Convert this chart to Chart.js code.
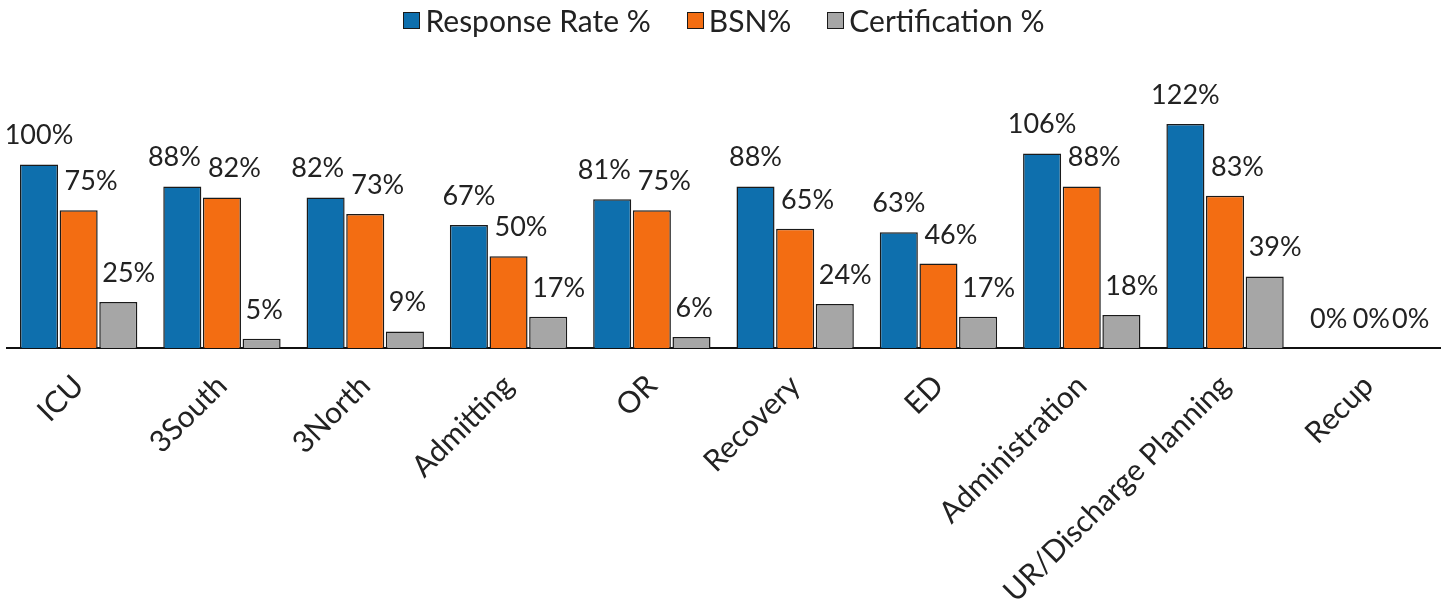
<!DOCTYPE html>
<html>
<head>
<meta charset="utf-8">
<script src="https://cdn.jsdelivr.net/npm/chart.js@4"></script>
<style>
  html, body { margin: 0; padding: 0; background: #ffffff; }
  #wrap { width: 1448px; height: 608px; position: relative; }
  #legend {
    position: absolute; top: 2px; left: 0; width: 1448px;
    display: flex; justify-content: center; gap: 36px;
    font-family: Lato, "Open Sans", sans-serif; font-size: 30px; color: #222222;
  }
  #legend span.item { display: flex; align-items: center; }
  #legend span.box {
    display: inline-block; width: 15px; height: 15px; margin-right: 5px;
    border: 1.5px solid #1a1a1a;
  }
</style>
</head>
<body>
<div id="wrap">
  <canvas id="unitChart"></canvas>
  <div id="legend"></div>
</div>
<script>
// categories and series
const units = ['ICU', '3South', '3North', 'Admitting', 'OR', 'Recovery', 'ED', 'Administration', 'UR/Discharge Planning', 'Recup'];
const responseRate = [100, 88, 82, 67, 81, 88, 63, 106, 122, 0];
const bsnPct = [75, 82, 73, 50, 75, 65, 46, 88, 83, 0];
const certPct = [25, 5, 9, 17, 6, 24, 17, 18, 39, 0];

const FONT = 'Lato, "Open Sans", sans-serif';

// value labels: blue centred, orange and grey start near the bar's left edge,
// blue gets nudged left when it would run into the orange one
const valueLabels = {
    id: 'valueLabels',
    afterDatasetsDraw(chart) {
        const ctx = chart.ctx;
        ctx.save();
        ctx.font = '27px ' + FONT;
        ctx.fillStyle = '#222222';
        ctx.textBaseline = 'alphabetic';
        ctx.textAlign = 'left';
        const lift = 20;
        const textH = 20;
        const metas = chart.data.datasets.map((ds, i) => chart.getDatasetMeta(i));

        chart.data.labels.forEach((lab, j) => {
            const boxes = metas.map((meta, i) => {
                const bar = meta.data[j];
                const txt = chart.data.datasets[i].data[j] + '%';
                const w = ctx.measureText(txt).width;
                const half = bar.width / 2;
                let left;
                if (i === 0) left = bar.x - w / 2;
                else if (i === 1) left = bar.x - half + 5;
                else left = bar.x - half + 3;
                return { txt, left, w, y: bar.y - lift };
            });
            const a = boxes[0], b = boxes[1], c = boxes[2];
            if (Math.abs(a.y - b.y) < textH && a.left + a.w > b.left - 7) {
                a.left = b.left - 7 - a.w;
            }
            // keep the orange label clear of the grey one when they sit level
            if (Math.abs(b.y - c.y) < textH && b.left + b.w > c.left - 2) {
                b.left = c.left - 2 - b.w;
            }
            boxes.forEach(bx => ctx.fillText(bx.txt, bx.left, bx.y));
        });
        ctx.restore();
    }
};

const ctx = document.getElementById('unitChart').getContext('2d');
const chart = new Chart(ctx, {
    type: 'bar',
    data: {
        labels: units,
        datasets: [
            {
                label: 'Response Rate %',
                data: responseRate,
                backgroundColor: '#0e6fad',
                borderColor: '#1a1a1a',
                borderWidth: 1.5
            },
            {
                label: 'BSN%',
                data: bsnPct,
                backgroundColor: '#f36d12',
                borderColor: '#1a1a1a',
                borderWidth: 1.5
            },
            {
                label: 'Certification %',
                data: certPct,
                backgroundColor: '#a6a6a6',
                borderColor: '#1a1a1a',
                borderWidth: 1.5
            }
        ]
    },
    options: {
        responsive: true,
        maintainAspectRatio: false,
        animation: false,
        datasets: {
            bar: {
                categoryPercentage: 0.83,
                barPercentage: 0.96
            }
        },
        layout: {
            padding: { left: 7, right: 8, top: 91, bottom: 3 }
        },
        plugins: {
            legend: { display: false },
            tooltip: { enabled: false }
        },
        scales: {
            x: {
                grid: { display: false, drawTicks: false },
                border: { display: true, color: '#111111', width: 2 },
                ticks: {
                    minRotation: 45,
                    maxRotation: 45,
                    padding: 20,
                    color: '#222222',
                    font: { family: FONT, size: 30 }
                }
            },
            y: {
                display: false,
                min: 0,
                max: 140
            }
        }
    },
    plugins: [valueLabels]
});

// html legend built from the datasets
const legendEl = document.getElementById('legend');
chart.data.datasets.forEach(ds => {
    const item = document.createElement('span');
    item.className = 'item';
    const box = document.createElement('span');
    box.className = 'box';
    box.style.background = ds.backgroundColor;
    item.appendChild(box);
    item.appendChild(document.createTextNode(ds.label));
    legendEl.appendChild(item);
});
</script>
</body>
</html>
